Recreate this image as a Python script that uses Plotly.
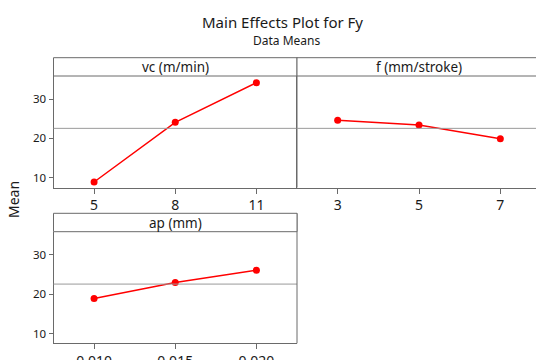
import plotly.graph_objects as go

# ---- data ----
vc_levels = ["5", "8", "11"]
vc_means = [8.9, 24.1, 34.2]
f_levels = ["3", "5", "7"]
f_means = [24.6, 23.4, 19.9]
ap_levels = ["0.010", "0.015", "0.020"]
ap_means = [18.9, 23.0, 26.1]
panel_titles = ["vc (m/min)", "f (mm/stroke)", "ap (mm)"]
y_ticks = [10, 20, 30]

all_vals = vc_means + f_means + ap_means
grand_mean = sum(all_vals) / len(all_vals)

W, H = 536, 360
FONT = "Noto Sans"
BORDER = "#6a6a6a"
RED = "#ff0000"
TXT = "#1a1a1a"

def px(x):
    return x / W

def py(y):
    return 1 - y / H

fig = go.Figure()

panels = [
    # (levels, means, xaxis, yaxis, x0, x1, header_top, header_bot, plot_bot)
    (vc_levels, vc_means, "x", "y", 53.5, 297, 57.7, 76, 187.5),
    (f_levels, f_means, "x2", "y2", 297, 541, 57.7, 76, 187.5),
    (ap_levels, ap_means, "x3", "y3", 53.5, 297, 213.3, 231.7, 343.3),
]

yr = [7.5, 35.9]

for i, (lv, mv, xa, ya, x0, x1, ht, hb, pb) in enumerate(panels):
    fig.add_trace(go.Scatter(
        x=lv, y=mv, xaxis=xa, yaxis=ya, mode="lines+markers",
        line=dict(color=RED, width=1.5),
        marker=dict(color=RED, size=7),
        showlegend=False, cliponaxis=False,
    ))
    sfx = "" if i == 0 else str(i + 1)
    d1 = min(px(x1), 1.0)
    span = 3.0 * (d1 * W - x0) / (x1 - x0)
    fig.update_layout(**{
        "xaxis" + sfx: dict(
            domain=[px(x0), d1], anchor=ya, type="category",
            range=[-0.5, -0.5 + span], showline=True, linecolor=BORDER,
            linewidth=1, ticks="outside", ticklen=5, tickcolor=BORDER,
            tickfont=dict(family=FONT, size=14, color=TXT),
            showgrid=False, zeroline=False, fixedrange=True,
            automargin=False,
        ),
        "yaxis" + sfx: dict(
            domain=[py(pb), py(hb)], anchor=xa, range=yr,
            tickvals=y_ticks, showline=True, linecolor=BORDER, linewidth=1,
            ticks="outside" if i != 1 else "", ticklen=4, tickcolor=BORDER,
            showticklabels=(i != 1),
            tickfont=dict(family=FONT, size=11.5, color=TXT),
            showgrid=False, zeroline=False, fixedrange=True,
            automargin=False,
        ),
    })
    fig.add_shape(type="line", xref=xa + " domain", yref=ya,
                  x0=0, x1=1, y0=grand_mean, y1=grand_mean,
                  line=dict(color="#9a9a9a", width=1))
    if x1 <= W:
        fig.add_shape(type="line", xref="paper", yref="paper",
                      x0=px(x1), x1=px(x1), y0=py(pb), y1=py(ht),
                      line=dict(color=BORDER, width=1))
    fig.add_shape(type="rect", xref="paper", yref="paper",
                  x0=px(x0), x1=px(x1), y0=py(hb), y1=py(ht),
                  line=dict(color=BORDER, width=1), fillcolor="white",
                  layer="above")
    fig.add_annotation(xref="paper", yref="paper",
                       x=px((x0 + x1) / 2), y=py((ht + hb) / 2),
                       text=panel_titles[i],
                       showarrow=False, xanchor="center", yanchor="middle",
                       font=dict(family=FONT, size=13.5, color=TXT))

fig.add_annotation(xref="paper", yref="paper", x=px(282), y=py(22),
                   text="Main Effects Plot for Fy", showarrow=False,
                   xanchor="center", yanchor="middle",
                   font=dict(family=FONT, size=15, color=TXT))
fig.add_annotation(xref="paper", yref="paper", x=px(286), y=py(40),
                   text="Data Means", showarrow=False,
                   xanchor="center", yanchor="middle",
                   font=dict(family=FONT, size=12, color=TXT))
fig.add_annotation(xref="paper", yref="paper", x=px(13), y=py(200),
                   text="Mean", textangle=-90, showarrow=False,
                   xanchor="center", yanchor="middle",
                   font=dict(family=FONT, size=14, color=TXT))

fig.update_layout(template="none", width=W, height=H,
                  margin=dict(l=0, r=0, t=0, b=0),
                  paper_bgcolor="white", plot_bgcolor="white")

fig.write_html("out.html")
